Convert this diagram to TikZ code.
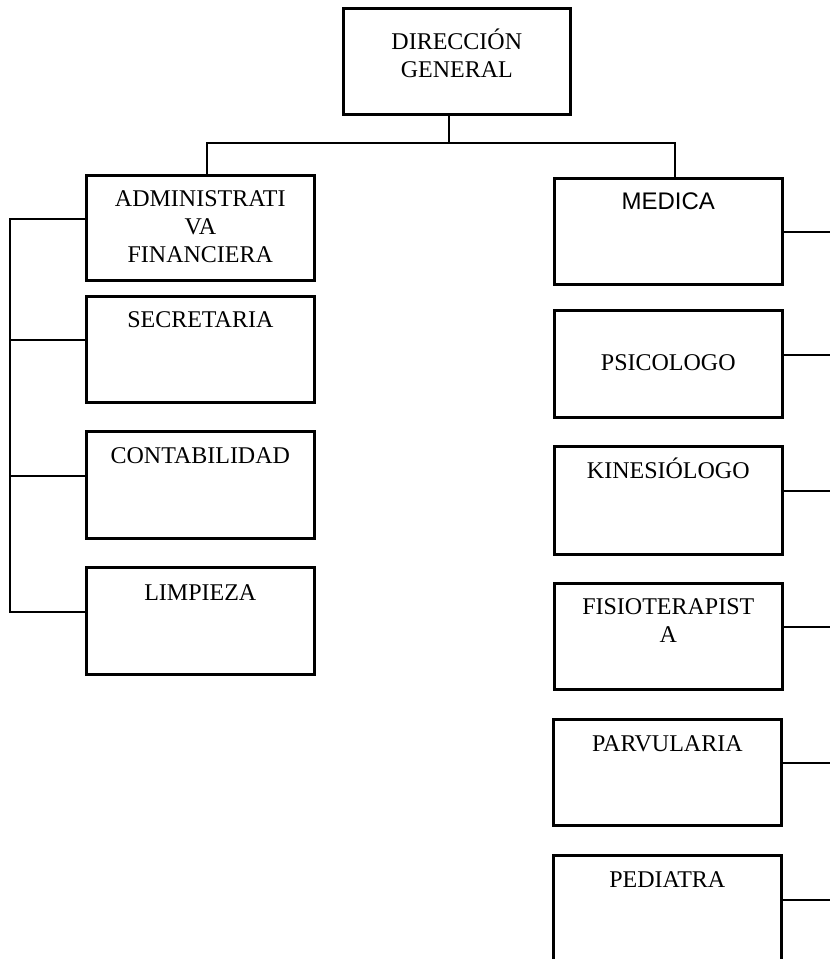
\documentclass[tikz,border=0pt]{standalone}
\usepackage{fontspec}
\setmainfont{Liberation Serif}
\newfontfamily\arialfont{Liberation Sans}
\begin{document}
\begin{tikzpicture}[x=1pt,y=-1pt,
  caja/.style={draw, line width=2.6pt, minimum width=228pt, minimum height=106pt, anchor=north west, inner sep=0pt},
  rotulo/.style={anchor=base, align=center, inner sep=0pt, font=\fontsize{24}{28}\selectfont},
  linea/.style={line width=1.4pt},
  lineaizq/.style={line width=2pt}]
\clip (0,0) rectangle (830,959);

% cajas
\node[caja, minimum width=227pt] (dir) at (342,7) {};
\node[caja, minimum height=105pt] (adm) at (85,174) {};
\node[caja] (sec) at (85,295) {};
\node[caja, minimum height=107pt] (con) at (85,430) {};
\node[caja, minimum height=107pt] (lim) at (85,566) {};
\node[caja] (med) at (553,177) {};
\node[caja, minimum height=107pt] (psi) at (553,309) {};
\node[caja, minimum height=108pt] (kin) at (553,445) {};
\node[caja] (fis) at (553,582) {};
\node[caja] (par) at (552,718) {};
\node[caja] (ped) at (552,854) {};

% textos (base = ultima linea)
\node[rotulo] (dir-t) at ([yshift=-70pt]dir.north) {DIRECCIÓN\\GENERAL};
\node[rotulo] (adm-t) at ([yshift=-88pt]adm.north) {ADMINISTRATI\\VA\\FINANCIERA};
\node[rotulo] (sec-t) at ([yshift=-32pt]sec.north) {SECRETARIA};
\node[rotulo] (con-t) at ([yshift=-33pt]con.north) {CONTABILIDAD};
\node[rotulo] (lim-t) at ([yshift=-34pt]lim.north) {LIMPIEZA};
\node[rotulo, font=\arialfont\fontsize{24}{28}\selectfont] (med-t) at ([yshift=-32pt]med.north) {MEDICA};
\node[rotulo] (psi-t) at ([yshift=-61pt]psi.north) {PSICOLOGO};
\node[rotulo] (kin-t) at ([yshift=-33pt]kin.north) {KINESIÓLOGO};
\node[rotulo] (fis-t) at ([yshift=-60pt]fis.north) {FISIOTERAPIST\\A};
\node[rotulo] (par-t) at ([yshift=-33pt]par.north) {PARVULARIA};
\node[rotulo] (ped-t) at ([yshift=-33pt]ped.north) {PEDIATRA};

% conectores
\coordinate (tronco) at (449,143);
\coordinate (ramaI) at (207,143);
\coordinate (ramaD) at (675,143);
\draw[linea] (tronco |- dir.south) -- (tronco)
  (ramaI |- adm.north) -- (ramaI) -- (ramaD) -- (ramaD |- med.north);

\draw[lineaizq] (adm.west |- 0,219) -- (10,219) -- (10,612) -- (lim.west |- 0,612);
\foreach \caja/\y in {sec/340,con/476}
  \draw[lineaizq] (\caja.west |- 0,\y) -- (10,\y);

\foreach \caja/\y in {med/232,psi/355,kin/491,fis/627,par/763,ped/900}
  \draw[linea] (\caja.east |- 0,\y) -- (830,\y);
\end{tikzpicture}
\end{document}
